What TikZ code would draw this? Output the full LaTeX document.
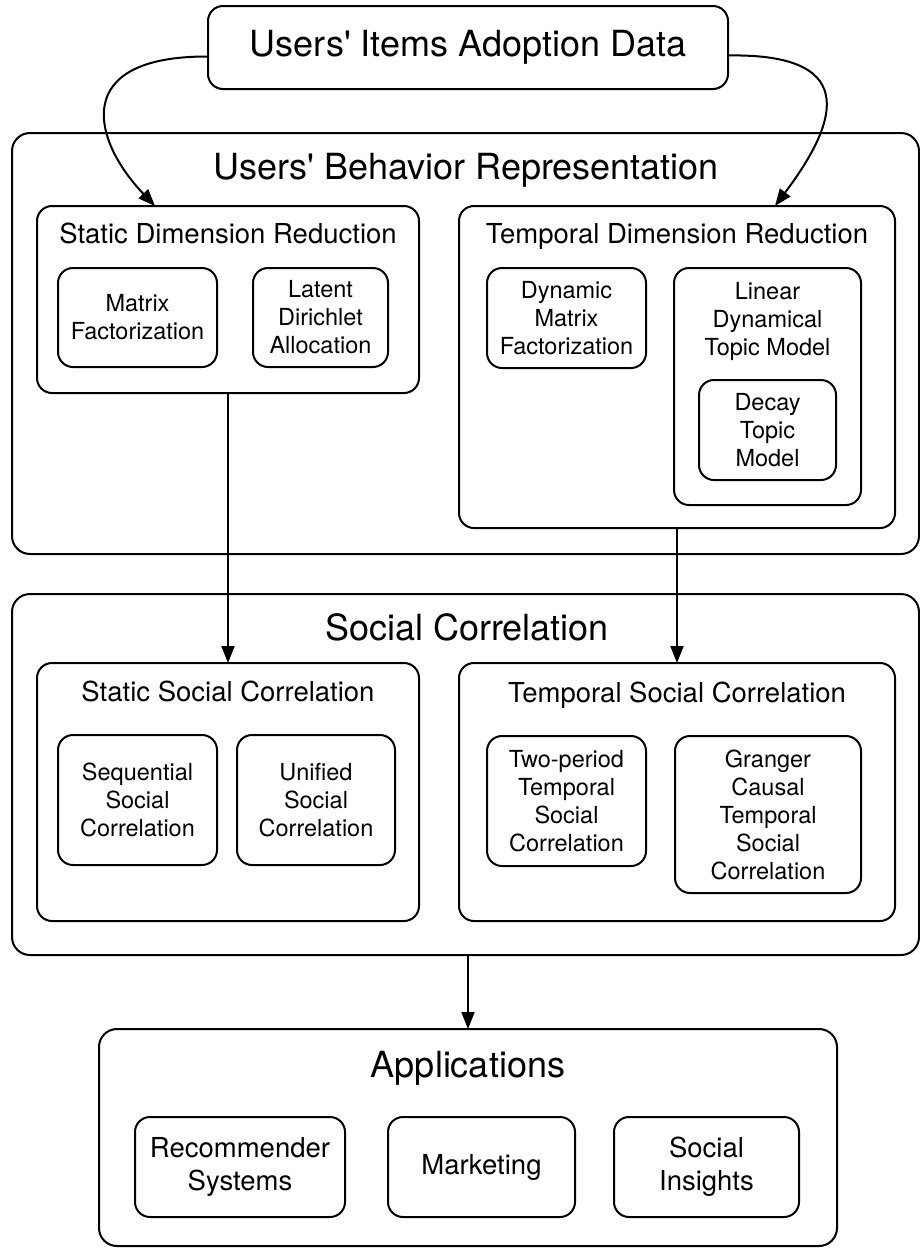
\documentclass[tikz,border=0pt]{standalone}
\usepackage{fontspec}
\setmainfont{TeX Gyre Heros}
\usetikzlibrary{arrows.meta}
\newcommand{\apos}{\textquotesingle}
\begin{document}
\begin{tikzpicture}[x=1pt,y=-1pt,
  box/.style={draw, line width=2pt, rounded corners=15pt, inner sep=0pt, outer sep=0pt, align=center},
  frame/.style={box, rounded corners=18pt},
  bigfont/.style={font=\fontsize{36}{43}\selectfont},
  midfont/.style={font=\fontsize{27.5}{33}\selectfont},
  smallfont/.style={font=\fontsize{23.5}{28}\selectfont},
  title/.style={inner sep=0pt, anchor=base},
  link/.style={line width=2pt, -{Triangle[length=17pt,width=13pt]}},
]
\useasboundingbox (0,0) rectangle (920,1251);

% input data
\node[box, bigfont, minimum width=520pt, minimum height=83pt] (data) at (468,47.5) {Users\apos{} Items Adoption Data};

% behaviour representation
\node[frame, minimum width=907pt, minimum height=421pt] (ubr) at (465.5,343.5) {};
\node[title, bigfont] (ubrt) at (466,179) {Users\apos{} Behavior Representation};

\node[box, minimum width=382pt, minimum height=187pt] (sdr) at (228,299.5) {};
\node[title, midfont] (sdrt) at (228,243) {Static Dimension Reduction};
\node[box, smallfont, minimum width=159pt, minimum height=99pt] (mf) at (137.5,317.5) {Matrix\\Factorization};
\node[box, smallfont, minimum width=135pt, minimum height=99pt] (lda) at (320.5,317.5) {Latent\\Dirichlet\\Allocation};

\node[box, minimum width=436pt, minimum height=322pt] (tdr) at (677,367) {};
\node[title, midfont] (tdrt) at (677,243) {Temporal Dimension Reduction};
\node[box, smallfont, minimum width=159pt, minimum height=100pt] (dmf) at (566.5,318) {Dynamic\\Matrix\\Factorization};
\node[box, minimum width=187pt, minimum height=237pt] (ldtm) at (767.5,386.5) {};
\node[smallfont, inner sep=0pt, anchor=north, align=center] (ldtmt) at (767.5,282) {Linear\\Dynamical\\Topic Model};
\node[box, smallfont, minimum width=137pt, minimum height=100pt] (dtm) at (767.5,430) {Decay\\Topic\\Model};

% social correlation
\node[frame, minimum width=907pt, minimum height=361pt] (sc) at (465.5,774.5) {};
\node[title, bigfont] (sct) at (467,640) {Social Correlation};

\node[box, minimum width=382pt, minimum height=258pt] (ssc) at (228,792) {};
\node[title, midfont] (ssct) at (228,701) {Static Social Correlation};
\node[box, smallfont, minimum width=159pt, minimum height=130pt] (seq) at (137.5,800) {Sequential\\Social\\Correlation};
\node[box, smallfont, minimum width=158pt, minimum height=130pt] (uni) at (316,800) {Unified\\Social\\Correlation};

\node[box, minimum width=436pt, minimum height=258pt] (tsc) at (677,792) {};
\node[title, midfont] (tsct) at (677,702) {Temporal Social Correlation};
\node[box, smallfont, minimum width=159pt, minimum height=130pt] (two) at (566.5,801) {Two-period\\Temporal\\Social\\Correlation};
\node[box, smallfont, minimum width=186pt, minimum height=157pt] (gc) at (768,814.5) {Granger\\Causal\\Temporal\\Social\\Correlation};

% applications
\node[frame, minimum width=738pt, minimum height=217pt] (app) at (468,1137.5) {};
\node[title, bigfont] (appt) at (468,1077) {Applications};
\node[box, midfont, minimum width=210pt, minimum height=100pt] (rec) at (240,1167) {Recommender\\Systems};
\node[box, midfont, minimum width=187pt, minimum height=100pt] (mkt) at (481.5,1167) {Marketing};
\node[box, midfont, minimum width=185pt, minimum height=100pt] (ins) at (706.5,1167) {Social\\Insights};

% connectors
\draw[link] ([yshift=-9pt]data.west) .. controls (70,56) and (92,140) .. ([xshift=-73pt]sdr.north);
\draw[link] ([yshift=-8pt]data.east) .. controls (868,53) and (832,130) .. ([xshift=98pt]tdr.north);
\draw[link] (sdr.south) -- (ssc.north);
\draw[link] (tdr.south) -- (tsc.north);
\draw[link] (sc.south -| app.north) -- (app.north);
\end{tikzpicture}
\end{document}
